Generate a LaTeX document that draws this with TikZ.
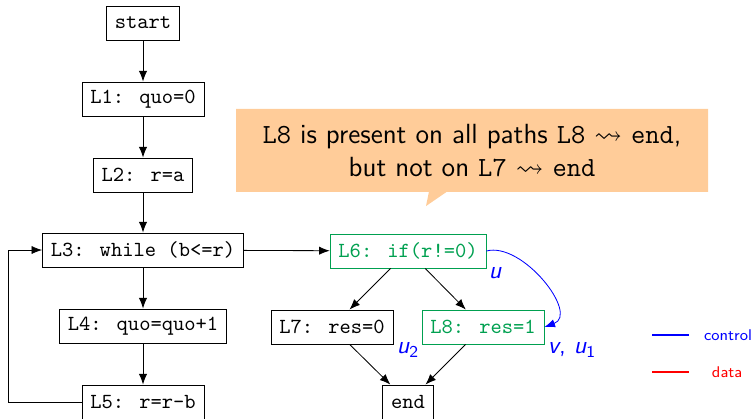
\documentclass[tikz,border=0pt]{standalone}
\usepackage{amsfonts,amssymb,amsmath}
\usepackage{xcolor}
\usepackage{tikz}
\usetikzlibrary{arrows.meta,shapes,shapes.callouts}
\definecolor{cfggreen}{RGB}{0,160,80}
\tikzset{
  stmt/.style={draw,rectangle,inner xsep=4pt,minimum height=0.58cm,
    font=\fontsize{10.4}{12}\selectfont\ttfamily},
  hot/.style={stmt,draw=cfggreen,text=cfggreen},
  lbl/.style={blue,font=\fontsize{12}{14}\selectfont\sffamily\itshape},
  key/.style={font=\fontsize{7.5}{9}\selectfont\sffamily}
}
\begin{document}
\begin{tikzpicture}[>={Latex[length=1.8mm,width=1.4mm]}]
\useasboundingbox (0,0) rectangle (12.8,7.106);
\node[stmt](start) at (2.431,6.715){start};
\node[stmt](l1) at (2.431,5.423){L1: quo=0};
\node[stmt](l2) at (2.431,4.131){L2: r=a};
\node[stmt](l3) at (2.431,2.856){L3: while (b<=r)};
\node[stmt](l4) at (2.431,1.564){L4: quo=quo+1};
\node[stmt](l5) at (2.431,0.272){L5: r=r-b};
\node[hot](l6) at (6.936,2.839){L6: if(r!=0)};
\node[stmt](l7) at (5.644,1.547){L7: res=0};
\node[hot](l8) at (8.211,1.547){L8: res=1};
\node[stmt](end) at (6.936,0.272){end};
\coordinate (back) at (0.136,0);
\draw[->](start)--(l1);
\draw[->](l1)--(l2);
\draw[->](l2)--(l3);
\draw[->](l3)--(l4);
\draw[->](l4)--(l5);
\draw[->](l5.west)-|(back|-l3)--(l3.west);
\draw[->](l3)--(l6);
\draw[->](l6)--(l7);
\draw[->](l6)--(l8);
\draw[->](l7)--(end);
\draw[->](l8)--(end);
\draw[blue,->](l6.east) to[out=15,in=20] (l8.east);
\node[lbl](u) at (8.415,2.465){u};
\node[lbl](u2) at (6.936,1.156){u\textsubscript{\upshape 2}};
\node[lbl](vu1) at (9.724,1.156){v\textup{,} u\textsubscript{\upshape 1}};
% remark
\node[rectangle callout,fill=orange!40,minimum width=8.024cm,minimum height=1.411cm,
  callout absolute pointer={(7.242,3.604)},callout pointer width=0.3cm,align=center,
  font=\fontsize{13.4}{16}\selectfont\sffamily](note) at (8.024,4.548)
  {\texttt{L8} is present on all paths \texttt{L8} $\leadsto$ \texttt{end},\\
   but not on \texttt{L7} $\leadsto$ \texttt{end}};
% legend
\coordinate (c1) at (11.084,1.411);
\coordinate (c2) at (11.713,1.411);
\coordinate (d1) at (11.084,0.782);
\coordinate (d2) at (11.713,0.782);
\draw[blue,semithick](c1)--(c2);
\draw[red,semithick](d1)--(d2);
\node[key,blue](ctl) at (12.376,1.411){control};
\node[key,red](dat) at (12.36,0.782){data};
\end{tikzpicture}
\end{document}
